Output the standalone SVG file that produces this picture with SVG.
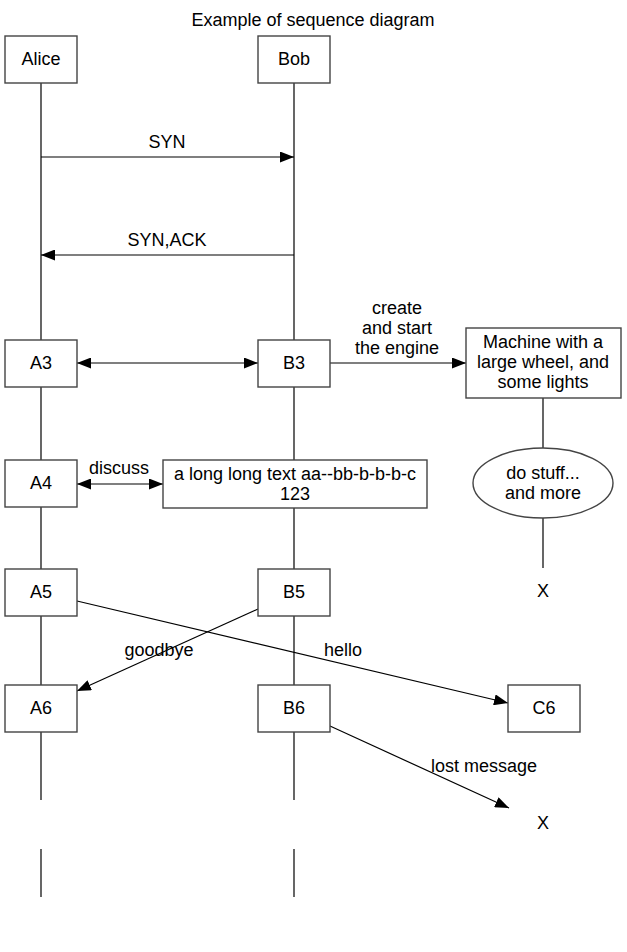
<svg xmlns="http://www.w3.org/2000/svg" width="627" height="952" viewBox="0 0 627 952">
<defs>
<style>
text{font-family:"Liberation Sans",Arial,sans-serif;font-size:18px;fill:#000;text-anchor:middle}
.box{fill:#fff;stroke:#444;stroke-width:1.4}
.ln{stroke:#000;stroke-width:1.2;fill:none}
.life{stroke:#000;stroke-width:1.2}
</style>
<marker id="ah" markerUnits="userSpaceOnUse" markerWidth="14" markerHeight="11" refX="14" refY="5.5" orient="auto-start-reverse" viewBox="0 0 14 11">
<path d="M0,0 L14,5.5 L0,11 z" fill="#000"/>
</marker>
</defs>
<rect width="627" height="952" fill="#fff"/>
<text x="313" y="26">Example of sequence diagram</text>
<g id="connectors">
<g id="lifelines">
<line class="life" x1="41" y1="83" x2="41" y2="340"/>
<line class="life" x1="41" y1="387" x2="41" y2="460"/>
<line class="life" x1="41" y1="507" x2="41" y2="569"/>
<line class="life" x1="41" y1="616" x2="41" y2="685"/>
<line class="life" x1="41" y1="732" x2="41" y2="800"/>
<line class="life" x1="41" y1="849" x2="41" y2="897"/>
<line class="life" x1="294" y1="83" x2="294" y2="340"/>
<line class="life" x1="294" y1="387" x2="294" y2="460"/>
<line class="life" x1="294" y1="508" x2="294" y2="569"/>
<line class="life" x1="294" y1="616" x2="294" y2="685"/>
<line class="life" x1="294" y1="732" x2="294" y2="800"/>
<line class="life" x1="294" y1="849" x2="294" y2="897"/>
<line class="life" x1="543" y1="398" x2="543" y2="448"/>
<line class="life" x1="543" y1="518" x2="543" y2="568"/>
</g>
<line class="ln" x1="41" y1="157" x2="294" y2="157" marker-end="url(#ah)"/>
<text x="167" y="148">SYN</text>
<line class="ln" x1="294" y1="255" x2="41" y2="255" marker-end="url(#ah)"/>
<text x="167" y="246">SYN,ACK</text>
<line class="ln" x1="77" y1="363" x2="258" y2="363" marker-start="url(#ah)" marker-end="url(#ah)"/>
<line class="ln" x1="330" y1="363" x2="466" y2="363" marker-end="url(#ah)"/>
<text x="397" y="314">create</text>
<text x="397" y="334">and start</text>
<text x="397" y="354">the engine</text>
<line class="ln" x1="77" y1="484" x2="163" y2="484" marker-start="url(#ah)" marker-end="url(#ah)"/>
<text x="119" y="474">discuss</text>
<line class="ln" x1="77" y1="601" x2="508" y2="703" marker-end="url(#ah)"/>
<text x="343" y="656">hello</text>
<line class="ln" x1="258" y1="609" x2="77" y2="691" marker-end="url(#ah)"/>
<text x="159" y="656">goodbye</text>
<line class="ln" x1="330" y1="726" x2="509" y2="808" marker-end="url(#ah)"/>
<text x="484" y="772">lost message</text>
</g>
<g id="Alice"><rect class="box" x="5" y="36" width="72" height="47"/><text x="41" y="65">Alice</text></g>
<g id="Bob"><rect class="box" x="258" y="36" width="72" height="47"/><text x="294" y="65">Bob</text></g>
<g id="A3"><rect class="box" x="5" y="340" width="72" height="47"/><text x="41" y="369">A3</text></g>
<g id="B3"><rect class="box" x="258" y="340" width="72" height="47"/><text x="294" y="369">B3</text></g>
<g id="Machine"><rect class="box" x="466" y="328" width="155" height="70"/>
<text x="543" y="348">Machine with a</text><text x="543" y="368">large wheel, and</text><text x="543" y="388">some lights</text></g>
<g id="A4"><rect class="box" x="5" y="460" width="72" height="47"/><text x="41" y="489">A4</text></g>
<g id="LongText"><rect class="box" x="163" y="460" width="264" height="48"/>
<text x="295" y="480">a long long text aa--bb-b-b-b-c</text><text x="295" y="500">123</text></g>
<g id="DoStuff"><ellipse class="box" cx="543" cy="483" rx="70" ry="35"/>
<text x="543" y="479">do stuff...</text><text x="543" y="499">and more</text></g>
<g id="X1"><text x="543" y="597">X</text></g>
<g id="A5"><rect class="box" x="5" y="569" width="72" height="47"/><text x="41" y="598">A5</text></g>
<g id="B5"><rect class="box" x="258" y="569" width="72" height="47"/><text x="294" y="598">B5</text></g>
<g id="A6"><rect class="box" x="5" y="685" width="72" height="47"/><text x="41" y="714">A6</text></g>
<g id="B6"><rect class="box" x="258" y="685" width="72" height="47"/><text x="294" y="714">B6</text></g>
<g id="C6"><rect class="box" x="508" y="685" width="72" height="47"/><text x="544" y="714">C6</text></g>
<g id="X2"><text x="543" y="829">X</text></g>
</svg>
